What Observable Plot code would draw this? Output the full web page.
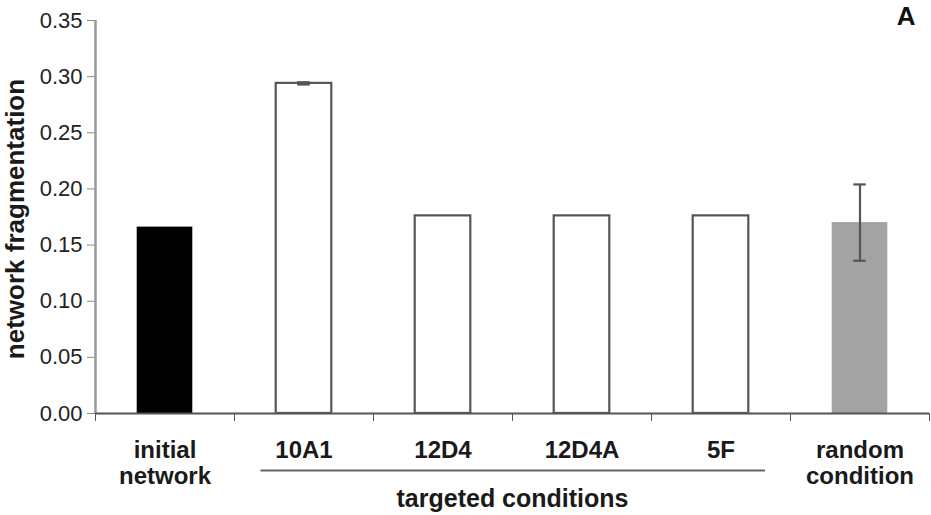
<!DOCTYPE html>
<html>
<head>
<meta charset="utf-8">
<script src="https://cdn.jsdelivr.net/npm/d3@7"></script>
<script src="https://cdn.jsdelivr.net/npm/@observablehq/plot@0.6"></script>
<style>
  html, body { margin: 0; padding: 0; background: #fff; }
  #chart svg { display: block; }
</style>
</head>
<body>
<div id="chart"></div>
<script>
// ---- data ----
const categories = ["initial\nnetwork", "10A1", "12D4", "12D4A", "5F", "random\ncondition"];
const values = [0.166, 0.294, 0.176, 0.176, 0.176, 0.170];
const errors = [0, 0.001, 0, 0, 0, 0.034];
const groups = ["initial", "targeted", "targeted", "targeted", "targeted", "random"];
const groupLabel = "targeted conditions";
const yTicks = [0, 0.05, 0.10, 0.15, 0.20, 0.25, 0.30, 0.35];
const yLabel = "network fragmentation";
const panelLabel = "A";

const rows = categories.map((c, i) => ({i, category: c, value: values[i], error: errors[i], group: groups[i]}));
const errRows = rows.filter(d => d.error > 0);
const capRows = errRows.flatMap(d => [{...d, yc: d.value - d.error}, {...d, yc: d.value + d.error}]);
const tIdx = groups.map((g, i) => g === "targeted" ? i : -1).filter(i => i >= 0);
const gFirst = tIdx[0], gLast = tIdx[tIdx.length - 1];
const boundaries = d3.range(categories.length + 1);

const FONT = "'Liberation Sans', Arial, Helvetica, sans-serif";

const chart = Plot.plot({
  width: 931,
  height: 515,
  marginLeft: 95,
  marginRight: 2,
  marginTop: 20,
  marginBottom: 102,
  style: {fontFamily: FONT, fontSize: "21px", color: "#222", background: "#fff"},
  x: {domain: [0, categories.length], axis: null},
  y: {domain: [0, 0.35], axis: null},
  color: {domain: ["initial", "targeted", "random"], range: ["#000000", "#ffffff", "#a3a3a3"]},
  marks: [
    Plot.rectY(rows, {x1: d => d.i + 0.3, x2: d => d.i + 0.7, y1: 0, y2: "value", fill: "group"}),
    Plot.rectY(rows.filter(d => d.group === "targeted"), {x1: d => d.i + 0.3, x2: d => d.i + 0.7, y1: 0, y2: "value", fill: "none", stroke: "#555", strokeWidth: 2.2}),
    Plot.ruleX(errRows, {x: d => d.i + 0.5, y1: d => d.value - d.error, y2: d => d.value + d.error, stroke: "#555", strokeWidth: 2.2}),
    Plot.ruleY(capRows, {y: "yc", x1: d => d.i + 0.455, x2: d => d.i + 0.545, stroke: "#555", strokeWidth: 2.2}),
    Plot.axisY(yTicks, {tickFormat: d3.format(".2f"), tickSize: 8, tickPadding: 5, stroke: "#888", fill: "#222", fontSize: 22, label: null}),
    Plot.axisX(boundaries, {tickFormat: () => "", tickSize: 8, stroke: "#555", label: null}),
    Plot.ruleX([0], {stroke: "#999", strokeWidth: 2.5}),
    Plot.ruleY([0], {stroke: "#555", strokeWidth: 2}),
    Plot.text(rows, {x: d => d.i + 0.5, y: 0, text: "category", dy: 26, lineAnchor: "top", fontSize: 24, fontWeight: "bold", lineHeight: 1.08, fill: "#1a1a1a"}),
    Plot.ruleY([0], {x1: gFirst + 0.19, x2: gLast + 0.82, dy: 57, stroke: "#666", strokeWidth: 2}),
    Plot.text([groupLabel], {x: (gFirst + gLast + 1) / 2, y: 0, dy: 76, lineAnchor: "top", fontSize: 25, fontWeight: "bold", fill: "#1a1a1a"}),
    Plot.text([yLabel], {frameAnchor: "left", textAnchor: "middle", lineAnchor: "middle", rotate: -90, dx: -80, dy: 2, fontSize: 26, fontWeight: "bold", fill: "#1a1a1a"}),
    Plot.text([panelLabel], {frameAnchor: "top-right", textAnchor: "end", lineAnchor: "top", dx: -14, dy: -14, fontSize: 26, fontWeight: "bold", fill: "#111"})
  ]
});
document.getElementById("chart").appendChild(chart);
</script>
</body>
</html>
